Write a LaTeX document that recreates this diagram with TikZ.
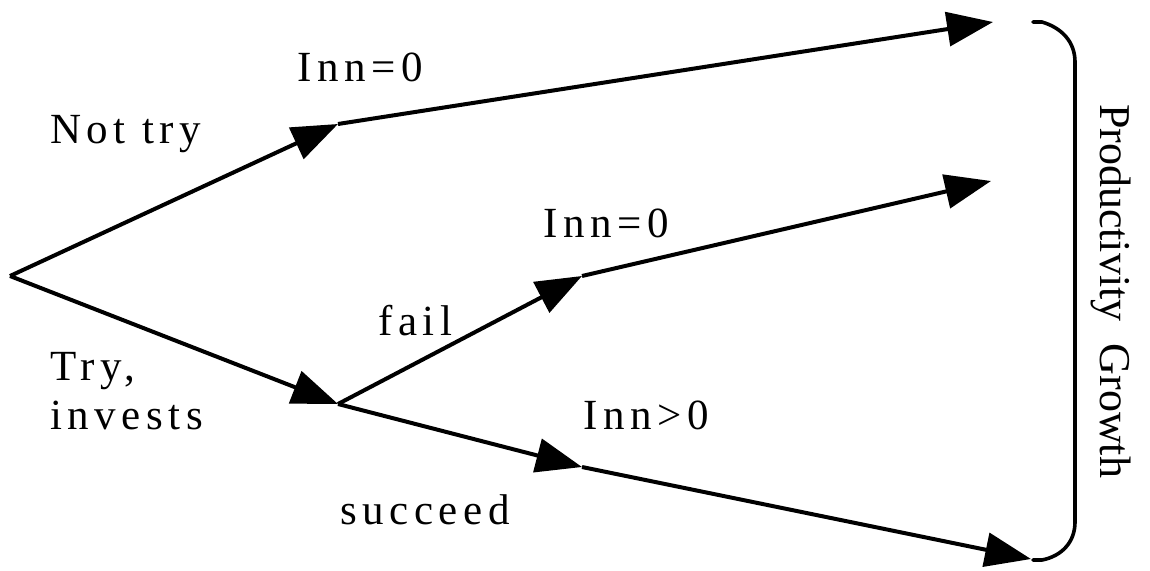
\documentclass[tikz,border=0pt]{standalone}
\usepackage{fontspec}
\setmainfont{Liberation Serif}
\newfontfamily\spacedfont[LetterSpace=13]{Liberation Serif}
\usetikzlibrary{arrows.meta}
\tikzset{
  branch/.style={line width=4pt, -{Triangle[length=46pt,width=34pt]}},
  lbl/.style={inner sep=0pt, anchor=base west, font=\spacedfont\fontsize{43}{49}\selectfont, align=left},
  bracket/.style={line width=3.6pt, line cap=round, line join=round}
}
\begin{document}
\begin{tikzpicture}[x=1pt,y=-1pt]
\useasboundingbox (0,0) rectangle (1150,570);
% points
\coordinate (R) at (10,276);
\coordinate (A) at (338,124);
\coordinate (B) at (338,404);
\coordinate (C) at (582,276);
\coordinate (D) at (582,467);
\coordinate (E1) at (993,22);
\coordinate (E2) at (991,181);
\coordinate (E3) at (1031,559);
% connectors
\draw[branch] (R) -- (A);
\draw[branch] (R) -- (B);
\draw[branch] (A) -- (E1);
\draw[branch] (B) -- (C);
\draw[branch] (B) -- (D);
\draw[branch] (C) -- (E2);
\draw[branch] (D) -- (E3);
% labels
\node[lbl] (nottry) at (50,143) {Not try};
\node[lbl] (inn1) at (297,81) {Inn=0};
\node[lbl] (inn2) at (543,237) {Inn=0};
\node[lbl] (fail) at (378,335) {fail};
\node[lbl] (inn3) at (583,429) {Inn>0};
\node[lbl] (try) at (50,429) {Try,\\invests};
\node[lbl] (succ) at (340,524) {succeed};
% bracket
\coordinate (BT) at (1033,22);
\coordinate (BB) at (1033,560);
\draw[bracket] (BT) -- (1042,22) .. controls (1062,28) and (1075,42) .. (1075,62)
  -- (1075,522) .. controls (1075,542) and (1062,556) .. (1042,560) -- (BB);
\node[inner sep=0pt, rotate=-90, anchor=base, font=\fontsize{44}{50}\selectfont] (pg) at (1100,291) {Productivity\ \ Growth};
\end{tikzpicture}
\end{document}
